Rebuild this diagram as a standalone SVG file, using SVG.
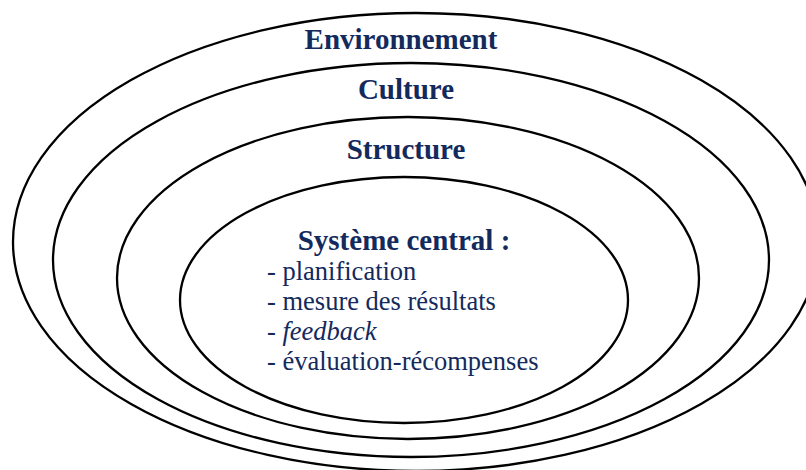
<svg xmlns="http://www.w3.org/2000/svg" width="806" height="470" viewBox="0 0 806 470">
  <style>
    .ring { fill: none; stroke: #000; stroke-width: 2.3; }
    .title { font-family: "Liberation Serif", "Times New Roman", serif; font-weight: bold; font-size: 29px; fill: #142a5c; text-anchor: middle; }
    .item { font-family: "Liberation Serif", "Times New Roman", serif; font-size: 26.5px; fill: #142a5c; }
  </style>
  <rect width="806" height="470" fill="#fff"/>
  <g id="environnement">
    <ellipse class="ring" cx="416" cy="242" rx="403" ry="229"/>
    <text class="title" x="401" y="49">Environnement</text>
  </g>
  <g id="culture">
    <ellipse class="ring" cx="411" cy="260" rx="358" ry="197"/>
    <text class="title" x="406" y="99">Culture</text>
  </g>
  <g id="structure">
    <ellipse class="ring" cx="408" cy="278" rx="291" ry="161"/>
    <text class="title" x="406" y="159">Structure</text>
  </g>
  <g id="systeme-central">
    <ellipse class="ring" cx="404" cy="300" rx="224" ry="123"/>
    <text class="title" x="404" y="250">Système central :</text>
    <text class="item" x="267" y="280">- planification</text>
    <text class="item" x="267" y="310">- mesure des résultats</text>
    <text class="item" x="267" y="340">- <tspan font-style="italic">feedback</tspan></text>
    <text class="item" x="267" y="370">- évaluation-récompenses</text>
  </g>
  <g id="connectors"/>
</svg>
